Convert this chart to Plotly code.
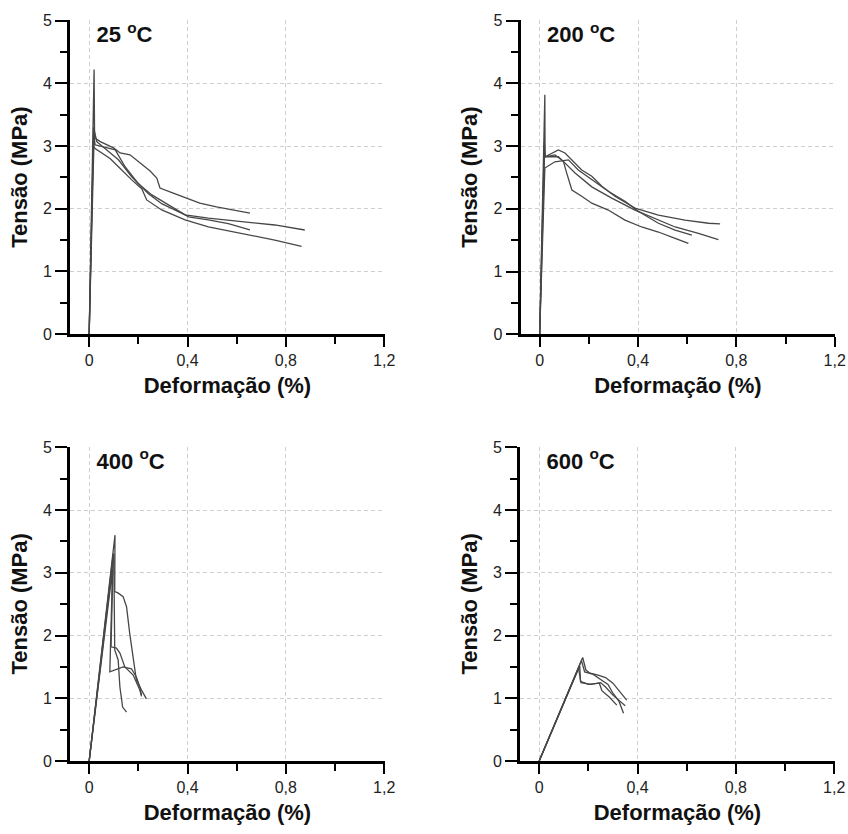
import plotly.graph_objects as go

# Stress-strain curves (strain in %, stress in MPa) for each exposure temperature
strain_25 = [
    [0, 0.020, 0.022, 0.045, 0.099, 0.126, 0.166, 0.207, 0.248, 0.275, 0.288, 0.342, 0.396, 0.450, 0.518, 0.586, 0.654],
    [0, 0.018, 0.031, 0.078, 0.119, 0.173, 0.214, 0.241, 0.295, 0.390, 0.485, 0.620, 0.755, 0.877],
    [0, 0.020, 0.024, 0.106, 0.146, 0.200, 0.255, 0.336, 0.404, 0.485, 0.566, 0.654],
    [0, 0.017, 0.024, 0.085, 0.119, 0.173, 0.214, 0.234, 0.295, 0.390, 0.485, 0.620, 0.755, 0.864],
]
stress_25 = [
    [0, 4.22, 3.13, 3.07, 2.97, 2.89, 2.86, 2.73, 2.60, 2.49, 2.33, 2.25, 2.17, 2.09, 2.03, 1.98, 1.93],
    [0, 3.30, 3.07, 2.91, 2.78, 2.51, 2.35, 2.24, 2.08, 1.90, 1.85, 1.79, 1.74, 1.66],
    [0, 3.15, 3.02, 2.94, 2.67, 2.40, 2.22, 2.03, 1.87, 1.82, 1.76, 1.66],
    [0, 3.00, 2.96, 2.80, 2.67, 2.46, 2.32, 2.14, 1.98, 1.82, 1.71, 1.61, 1.50, 1.40],
]

strain_200 = [
    [0, 0.021, 0.022, 0.076, 0.103, 0.144, 0.171, 0.212, 0.253, 0.306, 0.388, 0.483, 0.591, 0.687, 0.734],
    [0, 0.019, 0.022, 0.062, 0.090, 0.144, 0.212, 0.293, 0.388, 0.483, 0.551, 0.646, 0.727],
    [0, 0.021, 0.062, 0.117, 0.157, 0.212, 0.279, 0.347, 0.401, 0.483, 0.551, 0.619],
    [0, 0.020, 0.022, 0.076, 0.097, 0.110, 0.131, 0.171, 0.212, 0.279, 0.347, 0.415, 0.483, 0.551, 0.605],
]
stress_200 = [
    [0, 3.82, 2.83, 2.94, 2.89, 2.73, 2.62, 2.52, 2.36, 2.20, 2.01, 1.90, 1.82, 1.77, 1.76],
    [0, 3.05, 2.83, 2.86, 2.78, 2.57, 2.35, 2.17, 1.98, 1.82, 1.71, 1.61, 1.51],
    [0, 2.65, 2.75, 2.78, 2.62, 2.46, 2.28, 2.12, 1.96, 1.77, 1.66, 1.58],
    [0, 2.90, 2.83, 2.83, 2.75, 2.57, 2.30, 2.20, 2.09, 1.98, 1.82, 1.71, 1.63, 1.53, 1.45],
]

strain_400 = [
    [0, 0.105, 0.104, 0.117, 0.138, 0.152, 0.165, 0.179, 0.192, 0.213, 0.233],
    [0, 0.098, 0.089, 0.111, 0.125, 0.145, 0.179, 0.206, 0.213],
    [0, 0.095, 0.084, 0.138, 0.172, 0.192, 0.206, 0.213],
    [0, 0.100, 0.104, 0.118, 0.125, 0.136, 0.152],
]
stress_400 = [
    [0, 3.60, 2.70, 2.68, 2.62, 2.46, 2.03, 1.61, 1.29, 1.13, 0.99],
    [0, 3.31, 1.82, 1.80, 1.72, 1.50, 1.37, 1.13, 1.03],
    [0, 3.05, 1.42, 1.50, 1.47, 1.34, 1.18, 1.05],
    [0, 3.30, 1.77, 1.61, 1.18, 0.86, 0.78],
]

strain_600 = [
    [0, 0.177, 0.190, 0.207, 0.240, 0.270, 0.300, 0.330, 0.356],
    [0, 0.172, 0.185, 0.220, 0.250, 0.280, 0.300, 0.325, 0.343],
    [0, 0.165, 0.168, 0.200, 0.245, 0.255, 0.285, 0.316],
    [0, 0.160, 0.170, 0.210, 0.250, 0.270, 0.300, 0.330, 0.350],
]
stress_600 = [
    [0, 1.65, 1.45, 1.40, 1.37, 1.33, 1.24, 1.10, 0.97],
    [0, 1.60, 1.42, 1.38, 1.30, 1.22, 1.08, 0.95, 0.76],
    [0, 1.52, 1.27, 1.22, 1.24, 1.12, 1.02, 0.89],
    [0, 1.48, 1.25, 1.22, 1.25, 1.18, 1.05, 0.95, 0.88],
]

panel_labels = ["25 <sup>o</sup>C", "200 <sup>o</sup>C", "400 <sup>o</sup>C", "600 <sup>o</sup>C"]
x_title = "Deformação (%)"
y_title = "Tensão (MPa)"

W, H = 848, 834
FONT = "Liberation Sans"
LINE_COLOR = "#474747"

# panel geometry in pixels: (left, right, top, bottom) of each plotting area
panels = [
    (70, 384.9, 20.1, 334.0),
    (520.5, 835.4, 20.1, 334.2),
    (70, 384.9, 446.7, 761.0),
    (520, 834.9, 446.7, 761.0),
]
datasets = [
    (strain_25, stress_25),
    (strain_200, stress_200),
    (strain_400, stress_400),
    (strain_600, stress_600),
]

fig = go.Figure()
layout_axes = {}

for i, ((strains, stresses), (l, r, t, b)) in enumerate(zip(datasets, panels)):
    n = i + 1
    xa = "x" if n == 1 else f"x{n}"
    ya = "y" if n == 1 else f"y{n}"
    for xs, ys in zip(strains, stresses):
        fig.add_trace(go.Scatter(
            x=xs, y=ys, xaxis=xa, yaxis=ya, mode="lines",
            line=dict(color=LINE_COLOR, width=1.3),
        ))

    # temperature label in the upper-left corner of the panel
    fig.add_trace(go.Scatter(
        x=[0.03], y=[4.75], xaxis=xa, yaxis=ya, mode="text",
        text=[f"<b>{panel_labels[i]}</b>"], textposition="middle right",
        textfont=dict(family=FONT, size=22, color="#111111"),
        cliponaxis=False,
    ))

    grid = dict(showgrid=True, gridcolor="#cfcfcf", gridwidth=1, griddash="4px,3px",
                zeroline=False, automargin=False,
                tickfont=dict(family=FONT, size=16, color="#222222"))
    layout_axes["xaxis" if n == 1 else f"xaxis{n}"] = dict(
        domain=[l / W, r / W], anchor=ya, range=[-0.078, 1.203], tick0=0, dtick=0.4,
        showline=True, linecolor="black", linewidth=2.6,
        ticks="outside", ticklen=10, tickwidth=2, tickcolor="black",
        minor=dict(dtick=0.2, ticks="outside", ticklen=7, tickwidth=2, tickcolor="black"),
        title=dict(text=f"<b>{x_title}</b>", standoff=10,
                   font=dict(family=FONT, size=22, color="#111111")),
        **grid,
    )
    layout_axes["yaxis" if n == 1 else f"yaxis{n}"] = dict(
        domain=[1 - b / H, 1 - t / H], anchor=xa, range=[0, 5.01], tick0=0, dtick=1,
        showline=True, linecolor="black", linewidth=2.6,
        ticks="outside", ticklen=12, tickwidth=2, tickcolor="black",
        minor=dict(dtick=0.5, ticks="outside", ticklen=7, tickwidth=2, tickcolor="black"),
        title=dict(text=f"<b>{y_title}</b>", standoff=10,
                   font=dict(family=FONT, size=22, color="#111111")),
        **grid,
    )

fig.update_layout(
    width=W, height=H, margin=dict(l=0, r=0, t=0, b=0),
    plot_bgcolor="white", paper_bgcolor="white", separators=",.",
    template="none", showlegend=False,
    **layout_axes,
)

fig.write_html("out.html")
